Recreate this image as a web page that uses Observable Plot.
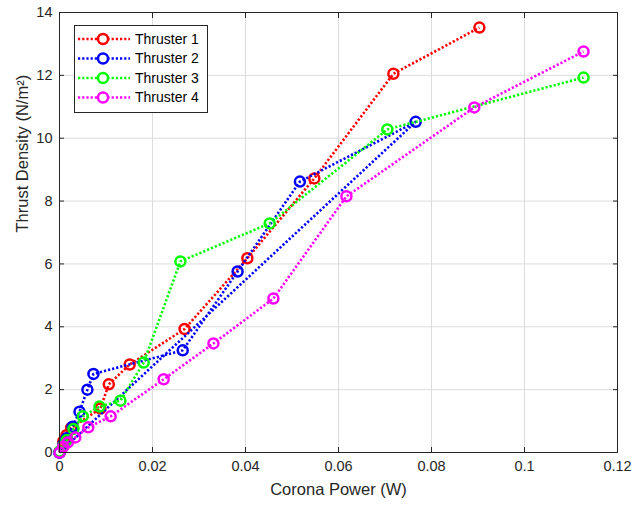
<!DOCTYPE html>
<html>
<head>
<meta charset="utf-8">
<script src="https://cdn.jsdelivr.net/npm/d3@7"></script>
<script src="https://cdn.jsdelivr.net/npm/@observablehq/plot@0.6"></script>
<style>
  html, body { margin: 0; padding: 0; background: #fff; }
  #wrap { position: relative; width: 640px; height: 509px; }
  #legend { position: absolute; left: 74px; top: 25px; }
</style>
</head>
<body>
<div id="wrap"></div>
<script>
const seriesNames = ["Thruster 1", "Thruster 2", "Thruster 3", "Thruster 4"];
const seriesColors = ["#ff0000", "#0000ff", "#00ff00", "#ff00ff"];

const t1x = [0, 0.0008, 0.0015, 0.0025, 0.0088, 0.0106, 0.0151, 0.0269, 0.0404, 0.0548, 0.0718, 0.0903];
const t1y = [0, 0.35, 0.55, 0.78, 1.4, 2.17, 2.8, 3.93, 6.18, 8.72, 12.05, 13.52];

const t2x = [0, 0.0008, 0.0015, 0.0028, 0.0043, 0.006, 0.0073, 0.0265, 0.0383, 0.0517, 0.0766, 0];
const t2y = [0, 0.25, 0.45, 0.82, 1.3, 2.0, 2.5, 3.25, 5.76, 8.62, 10.52, 0];

const t3x = [0, 0.0008, 0.0016, 0.003, 0.005, 0.0086, 0.0131, 0.0181, 0.026, 0.0452, 0.0705, 0.1127];
const t3y = [0.03, 0.2, 0.4, 0.75, 1.15, 1.46, 1.65, 2.86, 6.08, 7.29, 10.28, 11.93];

const t4x = [0, 0.0008, 0.0018, 0.0034, 0.0062, 0.011, 0.0224, 0.0331, 0.046, 0.0617, 0.0892, 0.1127];
const t4y = [0, 0.18, 0.32, 0.48, 0.8, 1.15, 2.33, 3.47, 4.9, 8.15, 10.98, 12.76];

const xTicks = [0, 0.02, 0.04, 0.06, 0.08, 0.1, 0.12];
const xTickLabels = ["0", "0.02", "0.04", "0.06", "0.08", "0.1", "0.12"];
const yTicks = [0, 2, 4, 6, 8, 10, 12, 14];
const xLabel = "Corona Power (W)";
const yLabel = "Thrust Density (N/m²)";

const allX = [t1x, t2x, t3x, t4x];
const allY = [t1y, t2y, t3y, t4y];
const series = allX.map((xs, i) => xs.map((x, j) => ({x, y: allY[i][j], s: seriesNames[i]})));

const font = "'Liberation Sans', Arial, Helvetica, sans-serif";
const ink = "#262626";

const seriesMarks = series.flatMap((data, i) => [
  Plot.line(data, {x: "x", y: "y", stroke: seriesColors[i], strokeWidth: 2.6, strokeDasharray: "2.2,2", strokeLinecap: "butt"}),
  Plot.dot(data, {x: "x", y: "y", r: 5, stroke: seriesColors[i], strokeWidth: 2.5, fill: "none"})
]);

const chart = Plot.plot({
  width: 640,
  height: 509,
  marginLeft: 59,
  marginRight: 23,
  marginTop: 12,
  marginBottom: 57,
  style: {fontFamily: font, fontSize: "14.5px", color: ink, background: "#fff"},
  x: {domain: [0, 0.12]},
  y: {domain: [0, 14]},
  marks: [
    Plot.gridX(xTicks, {stroke: "#dcdcdc", strokeOpacity: 1}),
    Plot.gridY(yTicks, {stroke: "#dcdcdc", strokeOpacity: 1}),
    Plot.axisX(xTicks, {anchor: "bottom", tickSize: -5, tickPadding: 13, tickFormat: (d, i) => xTickLabels[i], label: null, stroke: ink, fill: ink}),
    Plot.axisX(xTicks, {anchor: "top", tickSize: -5, tickFormat: () => "", label: null, stroke: ink}),
    Plot.axisY(yTicks, {anchor: "left", tickSize: -5, tickPadding: 12, label: null, stroke: ink, fill: ink}),
    Plot.axisY(yTicks, {anchor: "right", tickSize: -5, tickFormat: () => "", label: null, stroke: ink}),
    ...seriesMarks,
    Plot.frame({stroke: ink, strokeWidth: 1}),
    Plot.text([xLabel], {frameAnchor: "bottom", dy: 42, fontSize: 16.5, fill: ink}),
    Plot.text([yLabel], {frameAnchor: "left", dx: -37, rotate: -90, fontSize: 16.5, fill: ink})
  ]
});

const wrap = document.getElementById("wrap");
wrap.appendChild(chart);

// Legend overlay
const lg = d3.select(wrap).append("svg").attr("id", "legend")
  .attr("width", 134).attr("height", 88)
  .style("font-family", font);
lg.append("rect").attr("x", 0.5).attr("y", 0.5).attr("width", 133).attr("height", 87)
  .attr("fill", "#fff").attr("stroke", ink);
seriesNames.forEach((name, i) => {
  const yy = 14 + i * 19.5;
  lg.append("line").attr("x1", 4).attr("x2", 56).attr("y1", yy).attr("y2", yy)
    .attr("stroke", seriesColors[i]).attr("stroke-width", 2.6).attr("stroke-dasharray", "2.2,2");
  lg.append("circle").attr("cx", 29).attr("cy", yy).attr("r", 5)
    .attr("fill", "#fff").attr("stroke", seriesColors[i]).attr("stroke-width", 2.5);
  lg.append("text").attr("x", 61).attr("y", yy).attr("dy", "0.35em")
    .attr("font-size", 14).attr("fill", "#000").text(name);
});
</script>
</body>
</html>
